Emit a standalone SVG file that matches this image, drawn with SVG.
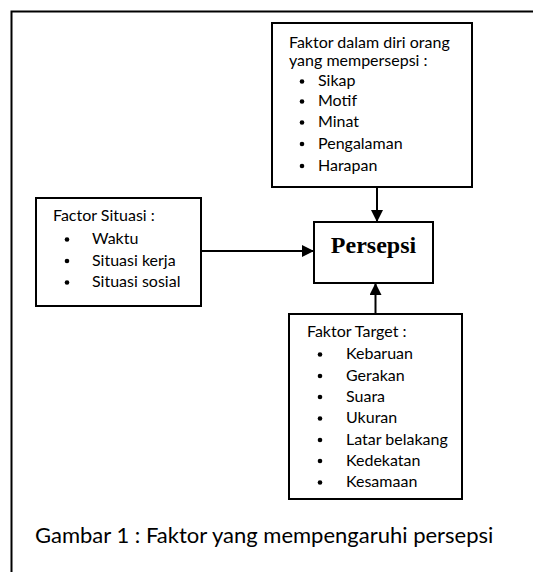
<svg xmlns="http://www.w3.org/2000/svg" width="533" height="572" viewBox="0 0 533 572">
<style>
.box{fill:#fff;stroke:#000;stroke-width:2}
.t{font-family:Lato,"Open Sans","Liberation Sans",sans-serif;font-size:16px;fill:#000}
.cap{font-family:Lato,"Open Sans","Liberation Sans",sans-serif;font-size:22px;fill:#000}
.b{fill:#000}
.ln{stroke:#000;stroke-width:2;fill:none}
</style>
<defs>
<marker id="ah" viewBox="0 0 12 12" refX="12" refY="6" markerWidth="12" markerHeight="12" markerUnits="userSpaceOnUse" orient="auto">
<path d="M0,0 L12,6 L0,12 Z" fill="#000"/>
</marker>
</defs>
<rect x="11.5" y="11.5" width="540" height="580" fill="none" stroke="#000" stroke-width="2"/>
<g id="connectors">
<line class="ln" x1="377" y1="187" x2="377" y2="222" marker-end="url(#ah)"/>
<line class="ln" x1="201" y1="251" x2="314" y2="251" marker-end="url(#ah)"/>
<line class="ln" x1="375.5" y1="314" x2="375.5" y2="283" marker-end="url(#ah)"/>
</g>
<g id="node-diri">
<rect class="box" x="272" y="23" width="200" height="164"/>
<text class="t" x="289" y="48">Faktor dalam diri orang</text>
<text class="t" x="289" y="66">yang mempersepsi :</text>
<circle class="b" cx="302" cy="81.5" r="2.3"/><text class="t" x="318" y="86">Sikap</text>
<circle class="b" cx="302" cy="101.5" r="2.3"/><text class="t" x="318" y="106">Motif</text>
<circle class="b" cx="302" cy="122.5" r="2.3"/><text class="t" x="318" y="127">Minat</text>
<circle class="b" cx="302" cy="144" r="2.3"/><text class="t" x="318" y="148.5">Pengalaman</text>
<circle class="b" cx="302" cy="166" r="2.3"/><text class="t" x="318" y="170.5">Harapan</text>
</g>
<g id="node-situasi">
<rect class="box" x="36" y="198" width="165" height="108"/>
<text class="t" x="53" y="221">Factor Situasi :</text>
<circle class="b" cx="67" cy="239.5" r="2.3"/><text class="t" x="92" y="244">Waktu</text>
<circle class="b" cx="67" cy="261" r="2.3"/><text class="t" x="92" y="265.5">Situasi kerja</text>
<circle class="b" cx="67" cy="282.5" r="2.3"/><text class="t" x="92" y="287">Situasi sosial</text>
</g>
<g id="node-persepsi">
<rect class="box" x="314" y="222" width="119" height="61"/>
<text x="373.5" y="253" text-anchor="middle" font-family="'Liberation Serif','Times New Roman',serif" font-weight="bold" font-size="24px">Persepsi</text>
</g>
<g id="node-target">
<rect class="box" x="289" y="314" width="173" height="185"/>
<text class="t" x="307" y="337">Faktor Target :</text>
<circle class="b" cx="320" cy="354.5" r="2.3"/><text class="t" x="346" y="359">Kebaruan</text>
<circle class="b" cx="320" cy="376" r="2.3"/><text class="t" x="346" y="380.5">Gerakan</text>
<circle class="b" cx="320" cy="397" r="2.3"/><text class="t" x="346" y="401.5">Suara</text>
<circle class="b" cx="320" cy="418.5" r="2.3"/><text class="t" x="346" y="423">Ukuran</text>
<circle class="b" cx="320" cy="440" r="2.3"/><text class="t" x="346" y="444.5">Latar belakang</text>
<circle class="b" cx="320" cy="461" r="2.3"/><text class="t" x="346" y="465.5">Kedekatan</text>
<circle class="b" cx="320" cy="482.5" r="2.3"/><text class="t" x="346" y="487">Kesamaan</text>
</g>
<text class="cap" x="35" y="543">Gambar 1 : Faktor yang mempengaruhi persepsi</text>
</svg>
